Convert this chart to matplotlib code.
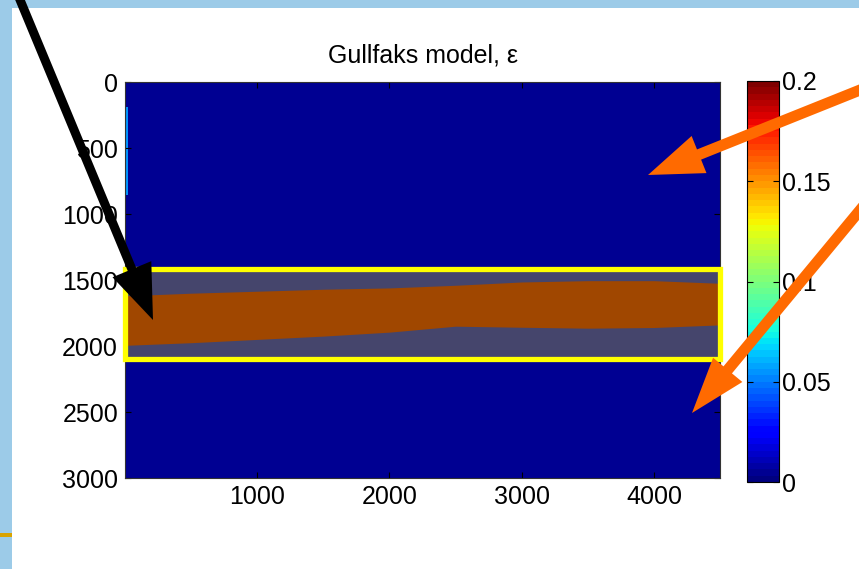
import numpy as np
import matplotlib
matplotlib.use("Agg")
import matplotlib.pyplot as plt
from matplotlib.patches import Rectangle

plt.rcParams['font.family'] = ['Liberation Sans', 'DejaVu Sans']

# model layers: x edges (m), depth edges (m), epsilon per cell
x_edges = [0, 22, 4500]
z_edges = [0, 190, 855, 3000]
eps_bg = [[0.004, 0.004],
          [0.055, 0.004],
          [0.004, 0.004]]

# reservoir top / bottom along the section (m)
x_res = [0, 500, 1000, 1500, 2000, 2500, 3000, 3500, 4000, 4500]
top_res = [1620, 1600, 1585, 1570, 1560, 1540, 1515, 1505, 1505, 1525]
bot_res = [1995, 1975, 1950, 1925, 1895, 1850, 1858, 1865, 1860, 1840]

# highlighted zone
box_x = [0, 4500]
box_z = [1420, 2102]

xticks = [1000, 2000, 3000, 4000]
yticks = [0, 500, 1000, 1500, 2000, 2500, 3000]
cticks = [0, 0.05, 0.1, 0.15, 0.2]
clabels = ['0', '0.05', '0.1', '0.15', '0.2']

W, H = 859, 569
fig = plt.figure(figsize=(W / 100, H / 100), dpi=100, facecolor='#9ccbe8')
fig.patches.append(Rectangle((12 / W, 0), 1, 1 - 8 / H, transform=fig.transFigure,
                             facecolor='white', edgecolor='none', zorder=-10))
fig.patches.append(Rectangle((0, 1 - 537 / H), 12 / W, 4 / H, transform=fig.transFigure,
                             facecolor='#d9a300', edgecolor='none', zorder=-10))

cmap = plt.get_cmap('jet', 64)
ax = fig.add_axes([125 / W, 1 - 478 / H, 595 / W, 396 / H])
mesh = ax.pcolormesh(x_edges, z_edges, eps_bg, cmap=cmap, vmin=0, vmax=0.2)

ax.add_patch(Rectangle((box_x[0], box_z[0]), box_x[1] - box_x[0], box_z[1] - box_z[0],
                       facecolor='#45456c', edgecolor='none', zorder=2))
ax.fill_between(x_res, top_res, bot_res, color='#a04700', lw=0, zorder=3)
ax.add_patch(Rectangle((box_x[0], box_z[0]), box_x[1] - box_x[0], box_z[1] - box_z[0],
                       fill=False, edgecolor='#ffff00', lw=3.8, clip_on=False, zorder=4))

ax.set_xlim(0, 4500)
ax.set_ylim(3000, 0)
ax.set_xticks(xticks)
ax.set_yticks(yticks)
ax.tick_params(direction='in', top=True, right=True, length=4, labelsize=18)
ax.tick_params(axis='y', pad=5)
ax.tick_params(axis='x', pad=5)
for s in ax.spines.values():
    s.set_linewidth(0.8)
    s.set_color('#333333')
ax.set_title('Gullfaks model, ε', fontsize=18, pad=14)

cax = fig.add_axes([747 / W, 1 - 482 / H, 32 / W, 401 / H])
cb = fig.colorbar(mesh, cax=cax, ticks=cticks)
cb.ax.set_yticklabels(clabels)
cb.ax.tick_params(direction='in', left=True, right=True, length=4, labelsize=18, pad=2)
cb.outline.set_linewidth(0.8)

# annotation arrows in pixel coordinates
ov = fig.add_axes([0, 0, 1, 1], zorder=10)
ov.set_xlim(0, W)
ov.set_ylim(H, 0)
ov.axis('off')
ov.arrow(18, -5, 153 - 18, 320 + 5, width=9, head_width=42, head_length=55,
         length_includes_head=True, color='black', lw=0)
ov.arrow(885, 80, 648 - 885, 175 - 80, width=11, head_width=40, head_length=55,
         length_includes_head=True, color='#ff6a00', lw=0)
ov.arrow(885, 180, 692 - 885, 413 - 180, width=11, head_width=38, head_length=56,
         length_includes_head=True, color='#ff6a00', lw=0)

fig.savefig('out.png', dpi=100, facecolor=fig.get_facecolor())
